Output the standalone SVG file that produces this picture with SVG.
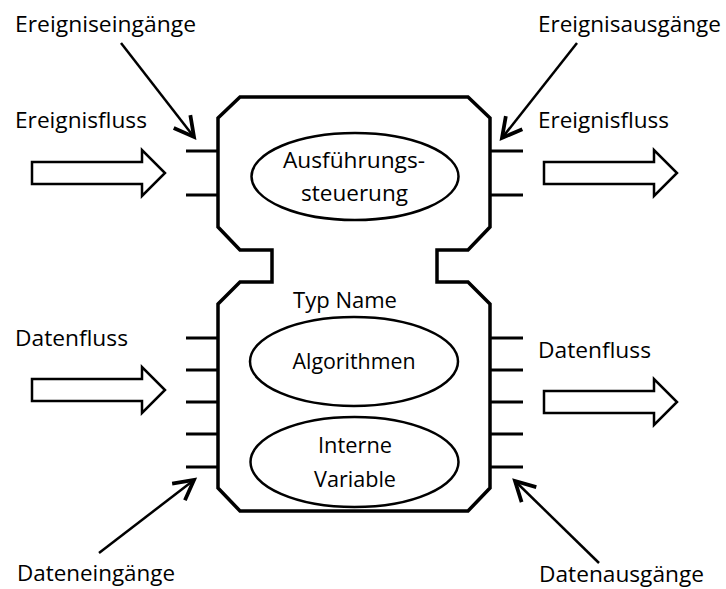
<svg xmlns="http://www.w3.org/2000/svg" width="726" height="589" viewBox="0 0 726 589">
  <style>
    .lbl { font-family: "Open Sans", "Liberation Sans", sans-serif; font-size: 21px; fill: #000; }
    .mid { text-anchor: middle; }
    .outline { fill: #fff; stroke: #000; stroke-width: 3.5; stroke-linejoin: miter; }
    .pin { stroke: #000; stroke-width: 3; fill: none; }
    .oval { fill: #fff; stroke: #000; stroke-width: 2.5; }
    .pointer { stroke: #000; stroke-width: 2.5; fill: none; }
    .flow { fill: #fff; stroke: #000; stroke-width: 2.5; stroke-linejoin: miter; }
  </style>
  <defs>
    <marker id="openHead" markerUnits="userSpaceOnUse" markerWidth="30" markerHeight="30" refX="0" refY="0" viewBox="-16 -10 20 20" orient="auto" overflow="visible">
      <path d="M-13,-7 L0,0 L-13,7" fill="none" stroke="#000" stroke-width="2.5" stroke-linejoin="miter"/>
    </marker>
    <path id="flowShape" d="M0,-11 H110 V-23 L133,0 L110,23 V11 H0 Z"/>
  </defs>

  <rect width="726" height="589" fill="#fff"/>

  <!-- function block: event head on top, data body below, joined by a neck -->
  <g id="function-block">
    <path class="outline" d="M240,97 H468 L490,118 V227 L468,250 H437 V282 H468 L490,304 V488 L468,511 H240 L218,488 V304 L240,282 H272 V250 H240 L218,227 V118 Z"/>
    <!-- event inputs / outputs -->
    <path class="pin" d="M186,151 H218 M186,195 H218 M490,151 H523 M490,195 H523"/>
    <!-- data inputs / outputs -->
    <path class="pin" d="M186,338 H218 M186,370 H218 M186,402 H218 M186,434 H218 M186,467 H218"/>
    <path class="pin" d="M490,338 H523 M490,370 H523 M490,402 H523 M490,434 H523 M490,467 H523"/>
    <text class="lbl mid" x="345" y="308" textLength="104" lengthAdjust="spacingAndGlyphs">Typ Name</text>
  </g>

  <g id="node-execution-control">
    <ellipse class="oval" cx="355" cy="176.5" rx="103.5" ry="43.5"/>
    <text class="lbl mid" x="354" y="168" textLength="142" lengthAdjust="spacingAndGlyphs">Ausführungs-</text>
    <text class="lbl mid" x="354.5" y="201" textLength="107" lengthAdjust="spacingAndGlyphs">steuerung</text>
  </g>

  <g id="node-algorithms">
    <ellipse class="oval" cx="354" cy="361.5" rx="104" ry="44.5"/>
    <text class="lbl mid" x="354" y="369" textLength="123" lengthAdjust="spacingAndGlyphs">Algorithmen</text>
  </g>

  <g id="node-internal-variables">
    <ellipse class="oval" cx="354.5" cy="462" rx="104" ry="45"/>
    <text class="lbl mid" x="355" y="453" textLength="74" lengthAdjust="spacingAndGlyphs">Interne</text>
    <text class="lbl mid" x="355" y="487" textLength="82" lengthAdjust="spacingAndGlyphs">Variable</text>
  </g>

  <!-- pointers from the captions to the pins, and the flow arrows -->
  <g id="connectors">
    <line class="pointer" x1="121" y1="43" x2="194" y2="137" marker-end="url(#openHead)"/>
    <line class="pointer" x1="577" y1="43" x2="502" y2="138" marker-end="url(#openHead)"/>
    <line class="pointer" x1="99" y1="553" x2="194" y2="480" marker-end="url(#openHead)"/>
    <line class="pointer" x1="599" y1="563" x2="515" y2="481" marker-end="url(#openHead)"/>

    <use href="#flowShape" class="flow" x="32" y="173"/>
    <use href="#flowShape" class="flow" x="544" y="173"/>
    <use href="#flowShape" class="flow" x="32" y="390"/>
    <use href="#flowShape" class="flow" x="544" y="402"/>
  </g>

  <g id="captions">
    <text class="lbl" x="15" y="32" textLength="181" lengthAdjust="spacingAndGlyphs">Ereigniseingänge</text>
    <text class="lbl" x="538" y="32" textLength="183" lengthAdjust="spacingAndGlyphs">Ereignisausgänge</text>
    <text class="lbl" x="15" y="128" textLength="132" lengthAdjust="spacingAndGlyphs">Ereignisfluss</text>
    <text class="lbl" x="538" y="128" textLength="131" lengthAdjust="spacingAndGlyphs">Ereignisfluss</text>
    <text class="lbl" x="15" y="346" textLength="113" lengthAdjust="spacingAndGlyphs">Datenfluss</text>
    <text class="lbl" x="538" y="358" textLength="113" lengthAdjust="spacingAndGlyphs">Datenfluss</text>
    <text class="lbl" x="17" y="581" textLength="158" lengthAdjust="spacingAndGlyphs">Dateneingänge</text>
    <text class="lbl" x="539" y="582" textLength="165" lengthAdjust="spacingAndGlyphs">Datenausgänge</text>
  </g>
</svg>
